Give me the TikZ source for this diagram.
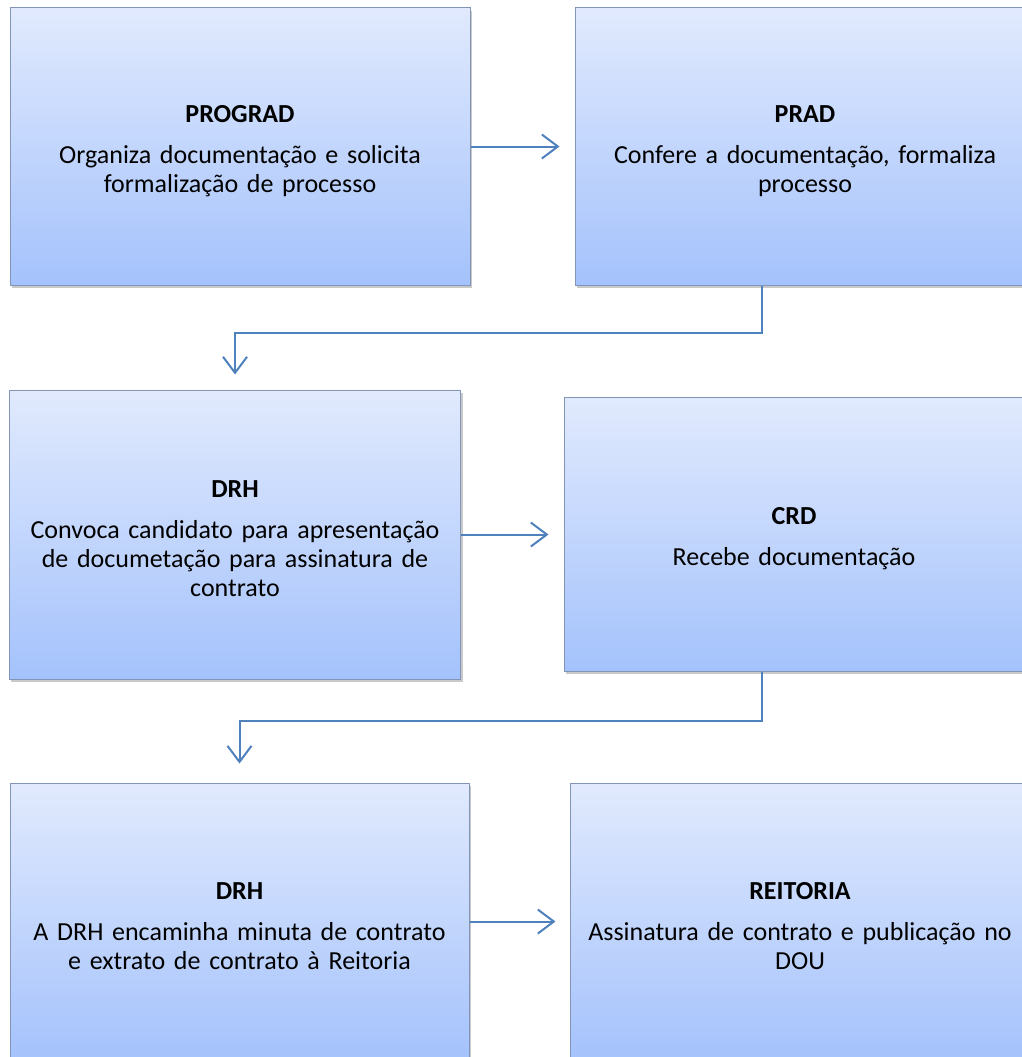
\documentclass[tikz,border=0pt]{standalone}
\usepackage{fontspec}
\setmainfont{Carlito}
\usetikzlibrary{arrows.meta,shadows,calc}
\definecolor{boxtop}{HTML}{E1EAFD}
\definecolor{boxbot}{HTML}{A4C2FC}
\definecolor{boxline}{HTML}{8294B8}
\definecolor{connblue}{HTML}{4F81BD}
\newcommand{\boxtext}[2]{\rule{0pt}{26pt}\textbf{#1}\\[12pt]#2}
\tikzset{
  box/.style={rectangle, top color=boxtop, bottom color=boxbot, draw=boxline, line width=1pt,
    minimum width=460pt, minimum height=277pt, text width=445pt, align=center,
    font=\fontsize{26}{29}\selectfont,
    drop shadow={shadow xshift=2pt, shadow yshift=-3pt, opacity=0.3, fill=black!70}},
  conn/.style={draw=connblue, line width=2pt, -{Straight Barb[length=16pt,width=24pt,line width=2pt]}}
}
\begin{document}
\begin{tikzpicture}[x=1pt,y=-1pt]
\useasboundingbox (0,0) rectangle (1022,1057);
\clip (0,0) rectangle (1022,1057);
\node[box] (b1) at (240,146.5) {\boxtext{PROGRAD}{Organiza documentação e solicita\\formalização de processo}};
\node[box] (b2) at (805,146.5) {\boxtext{PRAD}{Confere a documentação, formaliza\\processo}};
\node[box, minimum width=450pt, minimum height=289pt] (b3) at (235,534.5) {\boxtext{DRH}{Convoca candidato para apresentação\\de documetação para assinatura de\\contrato}};
\node[box, minimum height=274pt] (b4) at (794,534) {\boxtext{CRD}{Recebe documentação}};
\node[box, minimum width=459pt, minimum height=277pt] (b5) at (239.5,921.5) {\boxtext{DRH}{A DRH encaminha minuta de contrato\\e extrato de contrato à Reitoria}};
\node[box] (b6) at (800,921.5) {\boxtext{REITORIA}{Assinatura de contrato e publicação no\\DOU}};
\coordinate (c1) at (762,333);
\coordinate (c2) at (762,721);
\draw[conn, shorten >=15pt] (b1.east) -- (b2.west);
\draw[conn, shorten >=15pt] (b3.east) -- (b3.east -| b4.west);
\draw[conn, shorten >=14pt] (b5.east) -- (b5.east -| b6.west);
\draw[conn, shorten >=15pt] (b2.south -| c1) -- (c1) -| (b3.north);
\draw[conn, shorten >=19pt] (b4.south -| c2) -- (c2) -| (b5.north);
\end{tikzpicture}
\end{document}
